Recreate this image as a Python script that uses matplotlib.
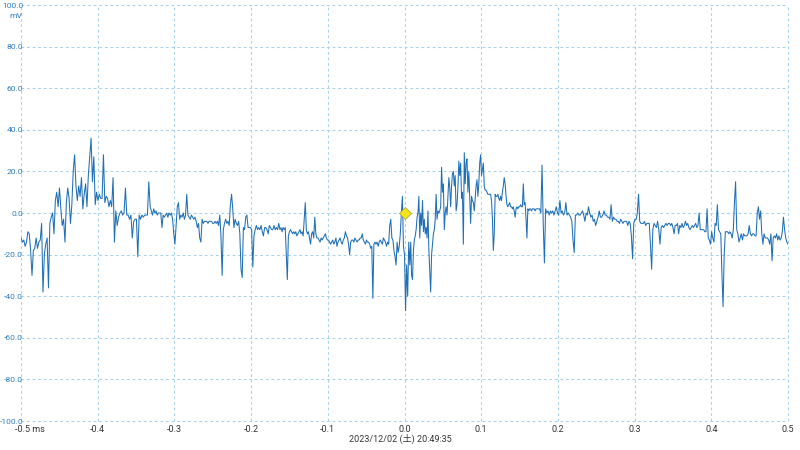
import numpy as np
import matplotlib
matplotlib.use("Agg")
import matplotlib.pyplot as plt

plt.rcParams['font.family'] = ['Roboto', 'Noto Sans CJK JP', 'DejaVu Sans']

# trace, in mV, split in six pieces along the time axis
seg_edges_ms = [-0.5, -0.3316, -0.1624, 0.0069, 0.1762, 0.3455, 0.5]

seg1 = [-12, -14, -13, -16, -14, -9, -10, -18, -30, -18, -17, -12, -17, -14, -13, -5,
        -38, -20, -15, -12, -36, -5, -2, 0, -10, 6, 10, 3, 12, 2, -6, -3, -14, 5, 12, 7,
        -5, 4, 20, 28, 13, 6, 13, 8, 17, 2, 9, 14, 3, 18, 27, 36, 15, 27, 4, 10, 6, 9, 7,
        7, 28, 5, 8, 7, 3, 6, 3, 17, -14, 1, -6, -2, 0, 1, -1, 0, 12, -1, -1, -3, -1, -12,
        -4, -3, -3, -21, -1, -3, -1, -2, -1, -1, -1, 15]

seg2 = [3, 1, -1, 2, 0, 1, -1, 0, 0, 0, -7, -1, -2, -1, 0, -2, 0, -1, 0, -3, -10, -15,
        -6, 3, 5, -3, -1, -2, 0, -3, -1, 9, -1, -2, -3, -1, -2, -3, -2, -4, -7, -5, -12,
        -14, -3, -5, -4, -4, -4, -5, -4, -4, -4, -5, -5, -4, -5, -4, -6, -1, -11, -30, -8,
        -5, -3, -5, -4, -6, 4, 9, 2, -7, -3, -5, -6, -4, -10, -27, -31, -7, -8, -2, -1, -7,
        -7, -7, -8, -26, -11, -8, -6, -8, -7, -8, -6, -9, -11, -7, -7, -8, -10, -6, -7, -8,
        -8, -6, -8, -7, -8, -5]

seg3 = [-8, -7, -9, -7, -8, -7, -20, -32, -11, -9, -8, -9, -10, -9, -10, -9, -11, -10,
        -9, -8, -10, -9, -11, -3, 5, -8, -10, -9, -12, -15, -10, -9, -12, -2,
        -10, -12, -12, -13, -14, -12, -13, -12, -11, -10, -12, -13, -13, -14, -15, -14,
        -13, -15, -14, -12, -16, -14, -13, -12, -14, -15, -13, -12, -9, -11, -12, -15,
        -20, -14, -13, -13, -14, -12, -13, -14, -13, -13, -12, -12, -10, -13, -14, -15,
        -13, -14, -14, -15, -17, -16,
        -41, -15, -14, -15, -14, -16, -14, -13, -14, -15, -12, -13, -14, -16, -14, -15,
        -6, -3, -12, -13, -18, -21, -25, -14, -19, -16, -10, 0, 8, -16, -20, -47, -25,
        -40, -14]

seg4 = [-25, -14, -30, -32, -18, -13, -11, -8, -2, 0, 8, -12, 0, -6, 6, -9, -3, -10, -7,
        -12, 1, -18, -28, -38, -20, -15, -10, -8, -3, 9, -3, 1, 0, 1, 3, 22, 10, 14, -8,
        0, 3, -1, 8, 17, 12, 3, 13, 19, 20, 13, 18, 1, 4, 12, 25, 18, 24, 7, 10, -15, 29,
        14, 24, 26, 10, 20, 8, -5, 8, 6, 5, 1, 7, 13, 16, 8, 14, 24, 28, 18, 21, 24, 13,
        11, 11, 10, 9, 9, 9, 9, 6, -3, -18, -10, 9, 8, 8, 9, 7, 6, 8, 6, 10, 13, 17, 14, 8,
        4, 3, 4, 5, 3, 3, 2, 3, 1, -2, 2, 3, 2, 3, 3, 4, 3, 3, 14, 4, 5, -3, -12, 2, 1, 2,
        2, 1, 2, 2, 2, 1, 2, 2, 2, 2]

seg5 = [2, 0, 23, -5, -24, 2, 0, 1, -1, 1, 0, 1, -1, 1, 3, 0, -1, 6, 0, 1, -1, 0, 5, -1,
        0, -1, -2, -4, -13, -19, -1, -1, 0, -1, -1, 0, 1, -1, -4, 0, -1, 3, 0, -2, -1, -4,
        -3, -6, -4, -2, 1, -2, -2, -1, 1, -1, -1, -2, -2, -3, 4, -4, -2, -3, -3, -4, -4,
        -5, -3, -4, -5, -4, -4, -4, -6, -4, -5, -11, -22, -5, -3, -3, 0, 9, -4, -5, -5,
        -5, -4, -6, -5, -5, -5, -15, -27, -8, -5, -6, -7, -4, -8, -15, -7, -6, -7, -6, -5,
        -6, -5]

seg6 = [-5, -6, -5, -7, -10, -6, -6, -5, -10, -6, -7, -5, -7, -6, -4, -6, -5, -7, -8, -7,
        -6, -7, -6, -5, -7, -6, 0, -8, -8, -8, -8, -9, -9, 2, -12, -13, -15, -9, -12, -14,
        -5, -6, 4, -8, -9, -10, -29, -45, -20, -9, -9, -9, -10, -9, -10, -12, -8, 5, 15,
        -8, -10, -14, -12, -10, -13, -10, -11, -11, -11, -10, -6, -10, -11, -10, -10, -11,
        -11, 0, 3, -3, 1, -10, -15, -10, -12, -12, -12, -13, -15, -10, -23, -12, -11, -12,
        -10, -13, -11, -13, -12, -9, -2, -8, -12, -14, -15]

segments = [seg1, seg2, seg3, seg4, seg5, seg6]

trigger_t = 0.0
trigger_v = 0.0

x_ticks = [-0.5, -0.4, -0.3, -0.2, -0.1, 0.0, 0.1, 0.2, 0.3, 0.4, 0.5]
y_ticks = [-100, -80, -60, -40, -20, 0, 20, 40, 60, 80, 100]
timestamp = "2023/12/02 (土) 20:49:35"

# build time axis piece by piece
t_parts = []
for i, seg in enumerate(segments):
    end = i == len(segments) - 1
    t_parts.append(np.linspace(seg_edges_ms[i], seg_edges_ms[i + 1], len(seg), endpoint=end))
t = np.concatenate(t_parts)
v = np.concatenate([np.array(s, dtype=float) for s in segments])

fig = plt.figure(figsize=(8, 4.5), dpi=100)
ax = fig.add_axes([21 / 800, 1 - 421 / 450, 767 / 800, 416 / 450])

ax.plot(t, v, color='#1f6fb6', lw=0.75)
ax.plot(trigger_t, trigger_v, marker='D', ms=6, mfc='#f2e61a', mec='#b5aa2a', mew=0.6,
        zorder=5)

ax.set_xlim(-0.5, 0.5)
ax.set_ylim(-100, 100)
ax.set_xticks(x_ticks)
ax.set_xticklabels([''] + [f'{x:.1f}' for x in x_ticks[1:]])
ax.set_yticks(y_ticks)
ax.set_yticklabels([f'{y:.1f}' for y in y_ticks])

for s in ax.spines.values():
    s.set_visible(False)

ax.tick_params(axis='both', length=0)
ax.tick_params(axis='x', colors='#333333', pad=3, labelsize=6.5)
ax.tick_params(axis='y', colors='#2f7fc1', pad=-1.5, labelsize=6.1)

ax.grid(True, color='#a9d3ea', linestyle=(0, (2.5, 2.5)), linewidth=0.8)
for tk in ax.xaxis.get_major_ticks() + ax.yaxis.get_major_ticks():
    tk.gridline.set_clip_on(False)

ax.annotate('-0.5 ms', xy=(-0.5, 0), xycoords=('data', 'axes fraction'),
            xytext=(-4.5, -3), textcoords='offset points', ha='left', va='top',
            fontsize=6.5, color='#333333')
ax.annotate('mV', xy=(0, 100), xycoords=('axes fraction', 'data'),
            xytext=(1, -8), textcoords='offset points', ha='right', va='center',
            fontsize=6.1, color='#2f7fc1')

fig.text(400 / 800, 1 - 439 / 450, timestamp, ha='center', va='center',
         fontsize=6.5, color='#333333')

fig.savefig('out.png', dpi=100)
